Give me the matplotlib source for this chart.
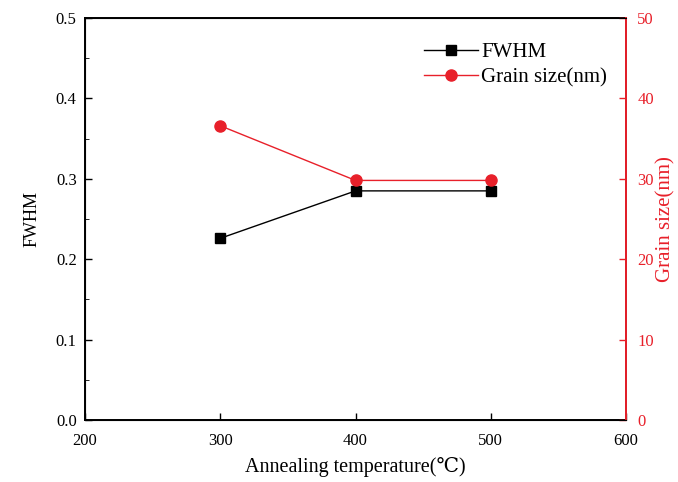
import numpy as np
from matplotlib import pyplot as plt
from matplotlib.ticker import MultipleLocator

plt.rcParams['font.family'] = ['Liberation Serif', 'DejaVu Serif']

# Data
temps = [300, 400, 500]
fwhm = [0.226, 0.285, 0.285]
grain = [36.6, 29.8, 29.8]

fig = plt.figure(figsize=(6.78, 4.82), dpi=100)
ax = fig.add_axes([0.1254, 0.1286, 0.798, 0.834])

l1, = ax.plot(temps, fwhm, color='black', marker='s', markersize=7, linewidth=1, label='FWHM')
ax.set_xlim(200, 600)
ax.set_ylim(0, 0.5)
ax.xaxis.set_major_locator(MultipleLocator(100))
ax.yaxis.set_major_locator(MultipleLocator(0.1))
ax.yaxis.set_minor_locator(MultipleLocator(0.05))
ax.tick_params(direction='in', labelsize=12, length=5, width=1)
ax.tick_params(which='minor', direction='in', length=3)
ax.tick_params(axis='x', top=False, pad=9)
ax.tick_params(axis='y', pad=6)
ax.set_xlabel('Annealing temperature(℃)', fontsize=14.5, labelpad=6)
ax.set_ylabel('FWHM', fontsize=13, labelpad=11)
for s in ax.spines.values():
    s.set_linewidth(1.4)

ax2 = ax.twinx()
l2, = ax2.plot(temps, grain, color='#e8202a', marker='o', markersize=8, linewidth=1, label='Grain size(nm)')
ax2.set_ylim(0, 50)
ax2.yaxis.set_major_locator(MultipleLocator(10))
ax2.tick_params(direction='in', labelsize=12, length=5, width=1, colors='#e8202a', pad=8)
ax2.spines['right'].set_color('#e8202a')
ax2.spines['right'].set_linewidth(1.4)
ax2.set_ylabel('Grain size(nm)', fontsize=15, color='#e8202a', labelpad=2)

ax.legend([l1, l2], ['FWHM', 'Grain size(nm)'], loc='upper right', bbox_to_anchor=(1.0, 0.985),
          frameon=False, fontsize=15, handlelength=2.6, handletextpad=0.15, labelspacing=0.25)

plt.savefig('out.png', dpi=100)
